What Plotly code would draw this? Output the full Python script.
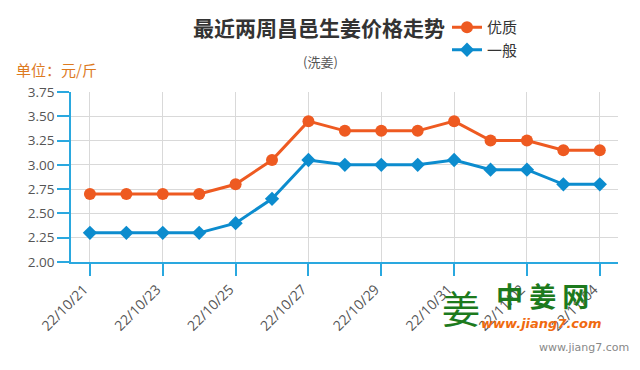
import plotly.graph_objects as go

dates = ["22/10/21", "22/10/22", "22/10/23", "22/10/24", "22/10/25", "22/10/26", "22/10/27",
         "22/10/28", "22/10/29", "22/10/30", "22/10/31", "22/11/01", "22/11/02", "22/11/03", "22/11/04"]
premium = [2.70, 2.70, 2.70, 2.70, 2.80, 3.05, 3.45, 3.35, 3.35, 3.35, 3.45, 3.25, 3.25, 3.15, 3.15]
regular = [2.30, 2.30, 2.30, 2.30, 2.40, 2.65, 3.05, 3.00, 3.00, 3.00, 3.05, 2.95, 2.95, 2.80, 2.80]
y_ticks = [2.00, 2.25, 2.50, 2.75, 3.00, 3.25, 3.50, 3.75]

idx = list(range(len(dates)))
tick_idx = idx[::2]
tick_txt = dates[::2]

ORANGE = "#ee5a21"
BLUE = "#0c8cce"
AXIS = "#2aa8df"
FONT = "Open Sans, Noto Sans CJK SC, sans-serif"
CJK = "Noto Sans CJK SC, sans-serif"

# page body has an 8px margin; work in reference-pixel coordinates and shift
OFF = 8
W, H = 640 - OFF, 370 - OFF
L, R, T, B = 71 - OFF, 22, 92 - OFF, 108
PW, PH = W - L - R, H - T - B


def px(x):
    return (x - OFF - L) / PW


def py(y):
    return (H - B - (y - OFF)) / PH


fig = go.Figure()
fig.add_trace(go.Scatter(x=idx, y=premium, name="优质", mode="lines+markers",
                         line=dict(color=ORANGE, width=3),
                         marker=dict(symbol="circle", size=12, color=ORANGE)))
fig.add_trace(go.Scatter(x=idx, y=regular, name="一般", mode="lines+markers",
                         line=dict(color=BLUE, width=3),
                         marker=dict(symbol="diamond", size=11, color=BLUE)))

fig.update_layout(
    width=W, height=H,
    margin=dict(l=L, r=R, t=T, b=B, autoexpand=False),
    paper_bgcolor="white", plot_bgcolor="white",
    font=dict(family=FONT, color="#555555", size=13),
    showlegend=True,
    legend=dict(x=(447 - OFF) / W, y=1 - (11 - OFF) / H, xref="container", yref="container",
                xanchor="left", yanchor="top",
                font=dict(family=CJK, size=15, color="#333333"),
                bgcolor="rgba(0,0,0,0)", itemwidth=30),
    xaxis=dict(range=[-0.52, 14.5], tickmode="array", tickvals=tick_idx, ticktext=tick_txt,
               tickangle=-45, showgrid=True, gridcolor="#d9d9d9", gridwidth=1,
               showline=True, linecolor=AXIS, linewidth=1.5,
               ticks="outside", ticklen=12, tickcolor=AXIS, tickwidth=1.5,
               ticklabelshift=-6,
               tickfont=dict(size=14, color="#555555"), zeroline=False, automargin=False),
    yaxis=dict(range=[2.0, 3.75], tickmode="array", tickvals=y_ticks,
               ticktext=[f"{v:.2f}" for v in y_ticks],
               showgrid=True, gridcolor="#d9d9d9", gridwidth=1,
               showline=True, linecolor=AXIS, linewidth=1.5,
               ticks="outside", ticklen=12, tickcolor=AXIS, tickwidth=1.5,
               tickfont=dict(size=13.5, color="#555555"), zeroline=False, automargin=False),
)

annotations = [
    dict(text="<b>最近两周昌邑生姜价格走势</b>", x=px(319), y=py(27),
         xanchor="center", yanchor="middle",
         font=dict(family=CJK, size=21, color="#333333")),
    dict(text="(洗姜)", x=px(320), y=py(62),
         xanchor="center", yanchor="middle",
         font=dict(family=CJK, size=13, color="#555555")),
    dict(text="单位：元/斤", x=px(14), y=py(69),
         xanchor="left", yanchor="middle",
         font=dict(family=CJK, size=15, color="#dd7a1f")),
    dict(text="姜", x=px(461), y=py(306),
         xanchor="center", yanchor="middle",
         font=dict(family=CJK, size=38, color="#1d7a1d")),
    dict(text="<b>中 姜 网</b>", x=px(542), y=py(295),
         xanchor="center", yanchor="middle",
         font=dict(family=CJK, size=27, color="#1d7a1d")),
    dict(text="<b><i>www.jiang7.com</i></b>", x=px(541), y=py(323),
         xanchor="center", yanchor="middle",
         font=dict(family="DejaVu Sans, sans-serif", size=13, color="#f06a10")),
    dict(text="www.jiang7.com", x=px(631), y=py(347),
         xanchor="right", yanchor="middle",
         font=dict(family="DejaVu Sans, sans-serif", size=11, color="#888888")),
]
for a in annotations:
    a.update(xref="paper", yref="paper", showarrow=False)
fig.update_layout(annotations=annotations)

fig.write_html("out.html")
